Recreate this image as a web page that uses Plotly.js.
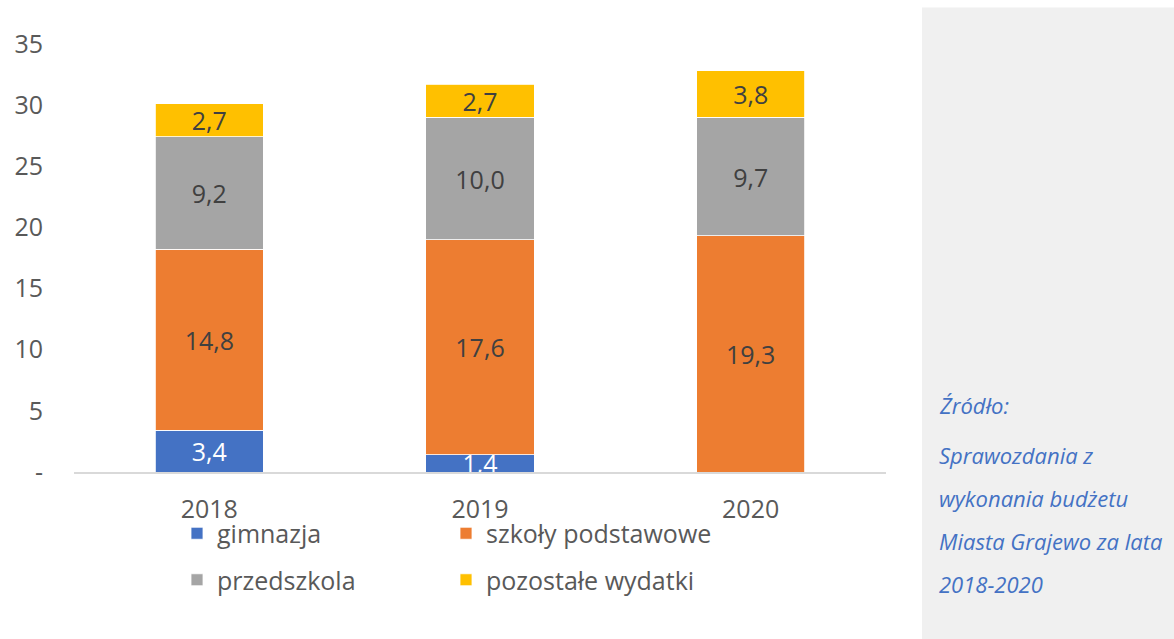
<!DOCTYPE html>
<html>
<head>
<meta charset="utf-8">
<script src="https://cdn.plot.ly/plotly-3.0.1.min.js"></script>
<style>html,body{margin:0;padding:0;background:#fff;}#chart{width:1174px;height:639px;}</style>
</head>
<body>
<div id="chart"></div>
<script>
const years = ['2018', '2019', '2020'];
const gimnazja = [3.4, 1.4, 0];
const szkolyPodstawowe = [14.8, 17.6, 19.3];
const przedszkola = [9.2, 10.0, 9.7];
const pozostale = [2.7, 2.7, 3.8];
const seriesNames = ['gimnazja', 'szkoły podstawowe', 'przedszkola', 'pozostałe wydatki'];
const yTickVals = [0, 5, 10, 15, 20, 25, 30, 35];
const yTickText = ['-', '5', '10', '15', '20', '25', '30', '35'];
const sourceLines = ['Źródło:', 'Sprawozdania z', 'wykonania budżetu', 'Miasta Grajewo za lata', '2018-2020'];

const colors = ['#4472C4', '#ED7D31', '#A5A5A5', '#FFC000'];
const labelColors = ['#FFFFFF', '#404040', '#404040', '#404040'];
const legends = ['legend', 'legend2', 'legend', 'legend2'];
const FONT = '"Open Sans", "Noto Sans", sans-serif';

function fmt(v) { return v ? v.toFixed(1).replace('.', ',') : ''; }

const data = [gimnazja, szkolyPodstawowe, przedszkola, pozostale].map((vals, i) => ({
  type: 'bar',
  name: seriesNames[i],
  x: years,
  y: vals,
  text: vals.map(fmt),
  textposition: 'inside',
  insidetextanchor: 'middle',
  textangle: 0,
  constraintext: 'none',
  textfont: {family: FONT, size: 25, color: labelColors[i]},
  marker: {color: colors[i], line: {color: '#FFFFFF', width: 0.8}},
  legend: legends[i],
  legendgroup: 'g' + i,
  hoverinfo: 'none'
}));

const annotations = sourceLines.map((t, i) => ({
  xref: 'paper', yref: 'paper',
  x: (937 - 74) / 812,
  y: (471.5 - [404, 454, 497, 540, 583][i]) / 428,
  xanchor: 'left', yanchor: 'middle',
  text: '<i>' + t + '</i>',
  showarrow: false,
  font: {family: FONT, size: 22, color: '#4472C4'}
}));

const legendCommon = {
  xanchor: 'left', yanchor: 'top',
  orientation: 'v',
  traceorder: 'grouped',
  tracegroupgap: 11,
  font: {family: FONT, size: 25, color: '#595959'},
  bgcolor: 'rgba(0,0,0,0)'
};

const layout = {
  width: 1174, height: 639,
  margin: {l: 74, r: 288, t: 44, b: 167, pad: 0},
  paper_bgcolor: '#FFFFFF',
  plot_bgcolor: '#FFFFFF',
  barmode: 'stack',
  bargap: 0.6,
  showlegend: true,
  font: {family: FONT, color: '#595959'},
  xaxis: {
    type: 'category',
    range: [-0.5, 2.5],
    showgrid: false,
    zeroline: false,
    showline: true,
    linecolor: '#D9D9D9',
    linewidth: 1.5,
    ticks: '',
    ticklabelstandoff: 14,
    tickfont: {family: FONT, size: 25, color: '#595959'},
    fixedrange: true
  },
  yaxis: {
    range: [0, 35],
    tickvals: yTickVals,
    ticktext: yTickText,
    showgrid: false,
    zeroline: false,
    showline: false,
    ticks: '',
    ticklabelstandoff: 30,
    tickfont: {family: FONT, size: 25, color: '#595959'},
    fixedrange: true
  },
  legend: Object.assign({x: (177 - 74) / 812, y: (471.5 - 510) / 428}, legendCommon),
  legend2: Object.assign({x: (446 - 74) / 812, y: (471.5 - 510) / 428}, legendCommon),
  shapes: [{
    type: 'rect', xref: 'paper', yref: 'paper', layer: 'below',
    x0: (922 - 74) / 812, x1: (1180 - 74) / 812,
    y0: (471.5 - 645) / 428, y1: (471.5 - 7) / 428,
    fillcolor: '#F0F0F0', line: {width: 0}
  }],
  annotations: annotations,
  hovermode: false
};

Plotly.newPlot('chart', data, layout, {displayModeBar: false, staticPlot: true});
</script>
</body>
</html>
